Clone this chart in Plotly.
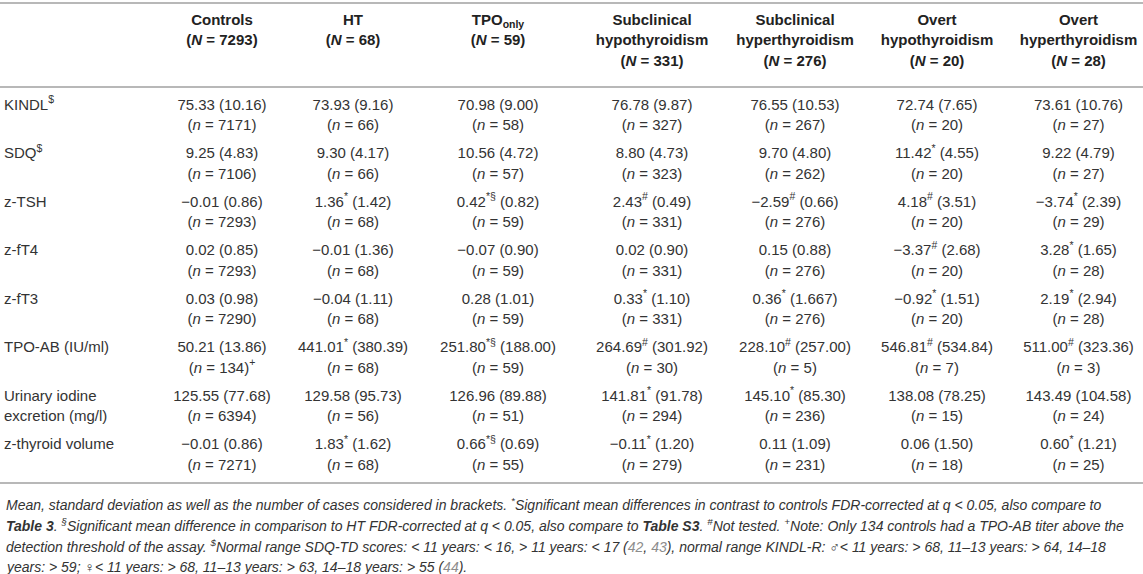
import plotly.graph_objects as go

# column groups (header) and their sizes
groups = ["Controls", "HT", "TPO<sub>only</sub>", "Subclinical<br>hypothyroidism",
          "Subclinical<br>hyperthyroidism", "Overt<br>hypothyroidism", "Overt<br>hyperthyroidism"]
group_n = [7293, 68, 59, 331, 276, 20, 28]

variables = ["KINDL<sup>$</sup>", "SDQ<sup>$</sup>", "z-TSH", "z-fT4", "z-fT3",
             "TPO-AB (IU/ml)", "Urinary iodine<br>excretion (mg/l)", "z-thyroid volume"]

# mean, sd, n and significance marks per variable
kindl_mean = [75.33, 73.93, 70.98, 76.78, 76.55, 72.74, 73.61]
kindl_sd = [10.16, 9.16, 9.00, 9.87, 10.53, 7.65, 10.76]
kindl_n = [7171, 66, 58, 327, 267, 20, 27]
kindl_mark = ["", "", "", "", "", "", ""]

sdq_mean = [9.25, 9.30, 10.56, 8.80, 9.70, 11.42, 9.22]
sdq_sd = [4.83, 4.17, 4.72, 4.73, 4.80, 4.55, 4.79]
sdq_n = [7106, 66, 57, 323, 262, 20, 27]
sdq_mark = ["", "", "", "", "", "*", ""]

tsh_mean = [-0.01, 1.36, 0.42, 2.43, -2.59, 4.18, -3.74]
tsh_sd = [0.86, 1.42, 0.82, 0.49, 0.66, 3.51, 2.39]
tsh_n = [7293, 68, 59, 331, 276, 20, 29]
tsh_mark = ["", "*", "*§", "#", "#", "#", "*"]

ft4_mean = [0.02, -0.01, -0.07, 0.02, 0.15, -3.37, 3.28]
ft4_sd = [0.85, 1.36, 0.90, 0.90, 0.88, 2.68, 1.65]
ft4_n = [7293, 68, 59, 331, 276, 20, 28]
ft4_mark = ["", "", "", "", "", "#", "*"]

ft3_mean = [0.03, -0.04, 0.28, 0.33, 0.36, -0.92, 2.19]
ft3_sd = [0.98, 1.11, 1.01, 1.10, 1.667, 1.51, 2.94]
ft3_n = [7290, 68, 59, 331, 276, 20, 28]
ft3_mark = ["", "", "", "*", "*", "*", "*"]

tpo_mean = [50.21, 441.01, 251.80, 264.69, 228.10, 546.81, 511.00]
tpo_sd = [13.86, 380.39, 188.00, 301.92, 257.00, 534.84, 323.36]
tpo_n = [134, 68, 59, 30, 5, 7, 3]
tpo_mark = ["", "*", "*§", "#", "#", "#", "#"]
tpo_n_mark = ["+", "", "", "", "", "", ""]

iodine_mean = [125.55, 129.58, 126.96, 141.81, 145.10, 138.08, 143.49]
iodine_sd = [77.68, 95.73, 89.88, 91.78, 85.30, 78.25, 104.58]
iodine_n = [6394, 56, 51, 294, 236, 15, 24]
iodine_mark = ["", "", "", "*", "*", "", ""]

volume_mean = [-0.01, 1.83, 0.66, -0.11, 0.11, 0.06, 0.60]
volume_sd = [0.86, 1.62, 0.69, 1.20, 1.09, 1.50, 1.21]
volume_n = [7271, 68, 55, 279, 231, 18, 25]
volume_mark = ["", "*", "*§", "*", "", "", "*"]

blank = [""] * 7
rows = [
    (kindl_mean, kindl_sd, kindl_n, kindl_mark, blank),
    (sdq_mean, sdq_sd, sdq_n, sdq_mark, blank),
    (tsh_mean, tsh_sd, tsh_n, tsh_mark, blank),
    (ft4_mean, ft4_sd, ft4_n, ft4_mark, blank),
    (ft3_mean, ft3_sd, ft3_n, ft3_mark, blank),
    (tpo_mean, tpo_sd, tpo_n, tpo_mark, tpo_n_mark),
    (iodine_mean, iodine_sd, iodine_n, iodine_mark, blank),
    (volume_mean, volume_sd, volume_n, volume_mark, blank),
]


def fmt(v):
    s = f"{v:.2f}"
    if float(s) != v:
        s = repr(v)
    return s.replace("-", "\u2212")


# layout (pixels, measured from the top-left corner)
W, H = 1143, 574
col_widths = [160, 124, 138, 152, 156, 130, 154, 129]
LABEL_X = 4
TOP_RULE = 3
HEAD_Y0, HEAD_LS = 21, 20.5
HEAD_RULE = 87
ROW_Y0, ROW_PITCH, LINE_GAP = 106, 48.5, 20.5
FOOT_Y0, FOOT_LS = 504, 21

centers = []
edge = col_widths[0]
for w in col_widths[1:]:
    centers.append(edge + w / 2)
    edge += w


def row_y(i):
    return ROW_Y0 + i * ROW_PITCH


bottom_rule = row_y(len(variables) - 1) + LINE_GAP + 17

text_col = "#333333"
family = "Liberation Sans, Arial, sans-serif"

# cell texts
vx, vy, vt = [], [], []
for i, (mean, sd, n, mark, n_mark) in enumerate(rows):
    for j in range(7):
        top = fmt(mean[j])
        if mark[j]:
            top += f"<sup>{mark[j]}</sup>"
        top += f" ({fmt(sd[j])})"
        bottom = f"(<i>n</i> = {n[j]})"
        if n_mark[j]:
            bottom += f"<sup>{n_mark[j]}</sup>"
        vx += [centers[j], centers[j]]
        vy += [row_y(i), row_y(i) + LINE_GAP]
        vt += [top, bottom]

# row labels
lx, ly, lt = [], [], []
for i, v in enumerate(variables):
    for k, part in enumerate(v.split("<br>")):
        lx.append(LABEL_X)
        ly.append(row_y(i) + k * LINE_GAP)
        lt.append(part)

# header texts
hx, hy, ht = [], [], []
for j, (g, n) in enumerate(zip(groups, group_n)):
    parts = g.split("<br>") + [f"(<i>N</i> = {n})"]
    for k, part in enumerate(parts):
        hx.append(centers[j])
        hy.append(HEAD_Y0 + k * HEAD_LS)
        ht.append(f"<b>{part}</b>")

fig = go.Figure()
fig.add_trace(go.Scatter(x=vx, y=vy, text=vt, mode="text", textposition="middle center",
                         textfont=dict(family=family, size=15, color=text_col),
                         hoverinfo="skip", showlegend=False))
fig.add_trace(go.Scatter(x=lx, y=ly, text=lt, mode="text", textposition="middle right",
                         textfont=dict(family=family, size=15, color=text_col),
                         hoverinfo="skip", showlegend=False))
fig.add_trace(go.Scatter(x=hx, y=hy, text=ht, mode="text", textposition="middle center",
                         textfont=dict(family=family, size=15, color="#222222"),
                         hoverinfo="skip", showlegend=False))

rule = dict(type="line", xref="x", yref="y", x0=0, x1=W, line=dict(color="#b8b8b8", width=2))
for yr in [TOP_RULE, HEAD_RULE, bottom_rule]:
    fig.add_shape(y0=yr, y1=yr, **rule)

gray = "<span style='color:#8c8c8c'>"
foot_lines = [
    "Mean, standard deviation as well as the number of cases considered in brackets. "
    "<sup>*</sup>Significant mean differences in contrast to controls FDR-corrected at q &lt; 0.05, also compare to",
    "<b>Table 3</b>. <sup>§</sup>Significant mean difference in comparison to HT FDR-corrected at q &lt; 0.05, "
    "also compare to <b>Table S3</b>. <sup>#</sup>Not tested. <sup>+</sup>Note: Only 134 controls had a TPO-AB titer above the",
    "detection threshold of the assay. <sup>$</sup>Normal range SDQ-TD scores: &lt; 11 years: &lt; 16, &gt; 11 years: &lt; 17 "
    f"({gray}42</span>, {gray}43</span>), normal range KINDL-R: \u2642&lt; 11 years: &gt; 68, 11\u201313 years: &gt; 64, 14\u201318",
    f"years: &gt; 59; \u2640&lt; 11 years: &gt; 68, 11\u201313 years: &gt; 63, 14\u201318 years: &gt; 55 ({gray}44</span>).",
]
for k, line in enumerate(foot_lines):
    fig.add_annotation(text=f"<i>{line}</i>", xref="x", yref="y", x=LABEL_X, y=FOOT_Y0 + k * FOOT_LS,
                       xanchor="left", yanchor="middle", align="left", showarrow=False,
                       font=dict(family=family, size=14, color=text_col))

fig.update_xaxes(range=[0, W], visible=False, fixedrange=True)
fig.update_yaxes(range=[H, 0], visible=False, fixedrange=True)
fig.update_layout(width=W, height=H, margin=dict(l=0, r=0, t=0, b=0),
                  paper_bgcolor="white", plot_bgcolor="white")

# the page's default body margin would push the figure 8px in
fig.write_html("out.html", config={"displayModeBar": False},
               post_script="document.body.style.margin = '0';")
